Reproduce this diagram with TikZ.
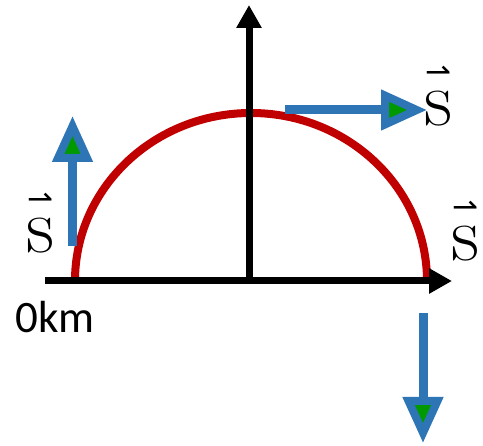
\documentclass[tikz,border=0pt]{standalone}
\usepackage{amsmath,amssymb}
\usepackage{fontspec}
\newfontfamily\labfont{Carlito}
\newfontfamily\harpfont{DejaVu Sans}
\usetikzlibrary{arrows.meta}
\definecolor{redarc}{HTML}{C00000}
\definecolor{bluev}{HTML}{2E75B6}
\definecolor{greenv}{HTML}{009A00}
\tikzset{
  axis/.style={line width=7pt,-{Triangle[length=23pt,width=24pt]}},
  vel/.style={bluev,line width=9pt,-{Triangle[length=46pt,width=39pt,fill=greenv,line width=8pt]}},
  vlab/.style={font=\fontsize{78}{80}\selectfont,inner sep=0pt,anchor=base}
}
\newcommand{\svec}{\ooalign{$\mathrm{s}$\cr\hidewidth\raisebox{43pt}{\harpfont\fontsize{31}{31}\selectfont ⇀}\hidewidth\cr}}
\begin{document}
\begin{tikzpicture}[x=1pt,y=-1pt]
\useasboundingbox (0,0) rectangle (483,446);
% axes
\coordinate (O) at (249,281);
\coordinate (xl) at (45,281);
\coordinate (xr) at (452,281);
\coordinate (yt) at (249,5);
\coordinate (yb) at (249,284);
% path of the body
\draw[redarc,line width=8pt] (75,281) arc[start angle=180,end angle=0,x radius=176pt,y radius=168pt];
\draw[axis] (xl) -- (xr);
\draw[axis] (yb) -- (yt);
% velocity vectors
\coordinate (v1a) at (72.5,246);
\coordinate (v1b) at (72.5,116);
\coordinate (v2a) at (285,110);
\coordinate (v2b) at (427,110);
\coordinate (v3a) at (423,313);
\coordinate (v3b) at (423,443);
\draw[vel] (v1a) -- (v1b);
\draw[vel] (v2a) -- (v2b);
\draw[vel] (v3a) -- (v3b);
\node[vlab] (s1) at (40.5,253) {\svec};
\node[vlab] (s2) at (438.5,126) {\svec};
\node[vlab] (s3) at (465,261) {\svec};
\node[font=\labfont\fontsize{45}{48}\selectfont,inner sep=0pt,anchor=base west] (start) at (15,333) {0km};
\end{tikzpicture}
\end{document}
